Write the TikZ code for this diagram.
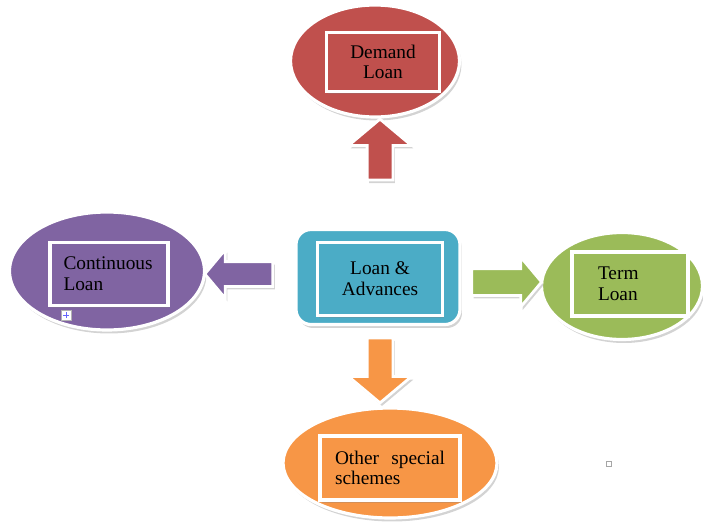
\documentclass[tikz,border=0pt]{standalone}
\usepackage{fontspec}
\setmainfont{Liberation Serif}
\usepackage{xcolor}
\usetikzlibrary{shapes, shapes.arrows, shadows, positioning}
\definecolor{dred}{HTML}{C0504D}
\definecolor{dpurple}{HTML}{8064A2}
\definecolor{dteal}{HTML}{4BACC6}
\definecolor{dgreen}{HTML}{9BBB59}
\definecolor{dorange}{HTML}{F79646}

\begin{document}
\begin{tikzpicture}[x=0.02cm, y=-0.02cm, font=\fontsize{11}{11.8}\selectfont]
\tikzstyle{oval} = [ellipse, draw=white, line width=1.8pt, drop shadow={opacity=0.35, shadow xshift=0.04cm, shadow yshift=-0.07cm}]
\tikzstyle{inner} = [rectangle, draw=white, line width=2.2pt, inner sep=0pt, drop shadow={opacity=0.3, shadow xshift=0.03cm, shadow yshift=-0.05cm}]
\tikzstyle{blockarrow} = [single arrow, draw=white, line width=1.6pt, inner xsep=0pt, single arrow tip angle=100, drop shadow={opacity=0.35, shadow xshift=0.04cm, shadow yshift=-0.06cm}]

\useasboundingbox (0,0) rectangle (703,521);

\node[rectangle, rounded corners=0.3cm, fill=dteal, draw=white, line width=1.8pt, minimum width=3.28cm, minimum height=1.9cm, drop shadow={opacity=0.35, shadow xshift=0.04cm, shadow yshift=-0.07cm}] (loans) at (378,277) {};
\node[inner, fill=dteal, minimum width=2.5cm, minimum height=1.46cm, align=center] (loansbox) at (380,279) {Loan \&\\Advances};

\node[oval, fill=dred, minimum width=3.38cm, minimum height=2.24cm] (demand) at (375,61) {};
\node[inner, fill=dred, minimum width=2.26cm, minimum height=1.18cm, align=center] (demandbox) at (383,62) {Demand\\Loan};

\node[oval, fill=dpurple, minimum width=3.9cm, minimum height=2.36cm] (continuous) at (107,271) {};
\node[inner, fill=dpurple, text width=1.82cm, inner xsep=0.27cm, minimum height=1.26cm, align=left] (continuousbox) at (109,274) {Continuous\\Loan};

\node[oval, fill=dgreen, minimum width=3.22cm, minimum height=2.14cm] (term) at (622,286) {};
\node[inner, fill=dgreen, text width=1.28cm, inner xsep=0.52cm, minimum height=1.28cm, align=left] (termbox) at (630,284) {Term\\Loan};

\node[oval, fill=dorange, minimum width=4.28cm, minimum height=2.2cm] (other) at (390,463) {};
\node[inner, fill=dorange, text width=2.2cm, inner xsep=0.3cm, minimum height=1.28cm, align=justify] (otherbox) at (390,468) {Other special schemes};

\node[blockarrow, fill=dred, rotate=90, minimum height=1.22cm, inner ysep=0.23cm, single arrow head extend=0.37cm] (uparrow) at (380,155) {};
\node[blockarrow, fill=dorange, rotate=-90, minimum height=1.3cm, inner ysep=0.23cm, single arrow head extend=0.37cm] (downarrow) at (380,365) {};
\node[blockarrow, fill=dpurple, rotate=180, minimum height=1.36cm, inner ysep=0.22cm, single arrow head extend=0.24cm] (leftarrow) at (244,274) {};
\node[blockarrow, fill=dgreen, minimum height=1.4cm, inner ysep=0.24cm, single arrow head extend=0.23cm] (rightarrow) at (501,282) {};

\node[rectangle, draw=gray!60, fill=white, line width=0.4pt, minimum size=0.2cm, inner sep=0pt] (handle) at (66,315) {};
\draw[blue!60, line width=0.4pt] ([xshift=-0.06cm]handle.center) -- ([xshift=0.06cm]handle.center);
\draw[blue!60, line width=0.4pt] ([yshift=-0.06cm]handle.center) -- ([yshift=0.06cm]handle.center);
\node[rectangle, draw=gray!70, line width=0.6pt, minimum size=0.1cm, inner sep=0pt] (marker) at (609,464) {};
\end{tikzpicture}
\end{document}
